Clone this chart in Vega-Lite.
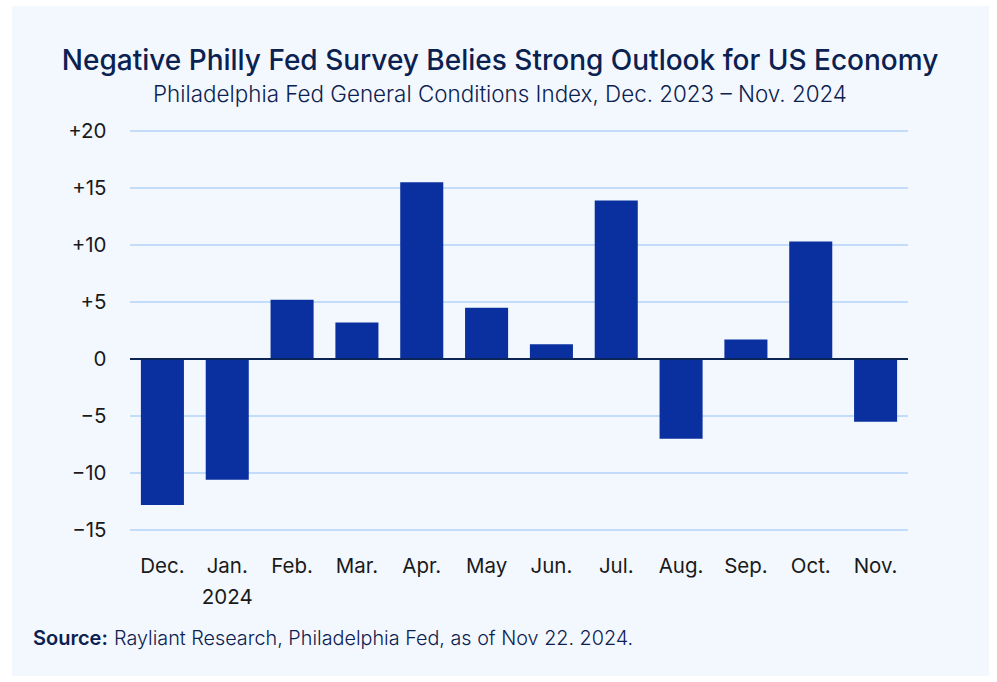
{
  "$schema": "https://vega.github.io/schema/vega-lite/v6.json",
  "width": 778,
  "height": 399,
  "autosize": {"type": "none"},
  "padding": {"left": 130, "top": 131, "right": 89, "bottom": 152},
  "background": "white",
  "title": {
    "text": "Negative Philly Fed Survey Belies Strong Outlook for US Economy",
    "subtitle": "Philadelphia Fed General Conditions Index, Dec. 2023 – Nov. 2024",
    "anchor": "middle",
    "frame": "group",
    "dx": -19,
    "dy": 100,
    "font": "Inter",
    "fontSize": 28,
    "fontWeight": 500,
    "color": "#0b2150",
    "subtitleFont": "Inter",
    "subtitleFontSize": 22.4,
    "subtitleFontWeight": 300,
    "subtitleColor": "#0b2150",
    "offset": 0,
    "subtitlePadding": 8
  },
  "datasets": {
    "months": [
      {"m": "Dec.", "v": -12.8},
      {"m": "Jan.", "v": -10.6},
      {"m": "Feb.", "v": 5.2},
      {"m": "Mar.", "v": 3.2},
      {"m": "Apr.", "v": 15.5},
      {"m": "May", "v": 4.5},
      {"m": "Jun.", "v": 1.3},
      {"m": "Jul.", "v": 13.9},
      {"m": "Aug.", "v": -7.0},
      {"m": "Sep.", "v": 1.7},
      {"m": "Oct.", "v": 10.3},
      {"m": "Nov.", "v": -5.5}
    ],
    "grid": [{"v": -15}, {"v": -10}, {"v": -5}, {"v": 5}, {"v": 10}, {"v": 15}, {"v": 20}],
    "zero": [{"v": 0}],
    "one": [{"k": 1}]
  },
  "layer": [
    {
      "data": {"name": "one"},
      "mark": {"type": "rect", "color": "#f3f8ff"},
      "encoding": {
        "x": {"value": -118},
        "x2": {"value": 859},
        "y": {"value": -125},
        "y2": {"value": 545}
      }
    },
    {
      "data": {"name": "grid"},
      "mark": {"type": "rule", "color": "#c3dcfa", "strokeWidth": 2},
      "encoding": {
        "y": {
          "field": "v", "type": "quantitative",
          "scale": {"domain": [-15, 20], "nice": false, "zero": false},
          "axis": {
            "values": [-15, -10, -5, 0, 5, 10, 15, 20],
            "grid": false, "domain": false, "ticks": false, "zindex": 1,
            "labelPadding": 24, "labelFont": "Inter", "labelFontSize": 20.5,
            "labelColor": "#1a1a1a", "title": null,
            "labelExpr": "datum.value > 0 ? '+' + datum.value : (datum.value < 0 ? '−' + abs(datum.value) : '0')"
          }
        }
      }
    },
    {
      "data": {"name": "months"},
      "mark": {"type": "bar", "color": "#0a30a0"},
      "encoding": {
        "x": {
          "field": "m", "type": "ordinal", "sort": null,
          "scale": {"paddingInner": 0.336, "paddingOuter": 0.168},
          "axis": {
            "title": null, "ticks": false, "domain": false, "labelAngle": 0, "zindex": 1,
            "labelPadding": 26, "labelFont": "Inter", "labelFontSize": 20.5,
            "labelColor": "#1a1a1a", "labelLineHeight": 31,
            "labelExpr": "datum.value == 'Jan.' ? ['Jan.', '2024'] : datum.value"
          }
        },
        "y": {
          "field": "v", "type": "quantitative",
          "scale": {"domain": [-15, 20], "nice": false, "zero": false}
        }
      }
    },
    {
      "data": {"name": "zero"},
      "mark": {"type": "rule", "color": "#0b2557", "strokeWidth": 2},
      "encoding": {
        "y": {"field": "v", "type": "quantitative"}
      }
    },
    {
      "data": {"name": "one"},
      "mark": {"type": "text", "text": "Source:", "font": "Inter", "fontSize": 20, "fontWeight": 600, "color": "#0b2150", "align": "left", "baseline": "alphabetic"},
      "encoding": {"x": {"value": -97}, "y": {"value": 514}}
    },
    {
      "data": {"name": "one"},
      "mark": {"type": "text", "text": "Rayliant Research, Philadelphia Fed, as of Nov 22. 2024.", "font": "Inter", "fontSize": 19.8, "fontWeight": 300, "color": "#0b2150", "align": "left", "baseline": "alphabetic"},
      "encoding": {"x": {"value": -16}, "y": {"value": 514}}
    }
  ]
}
